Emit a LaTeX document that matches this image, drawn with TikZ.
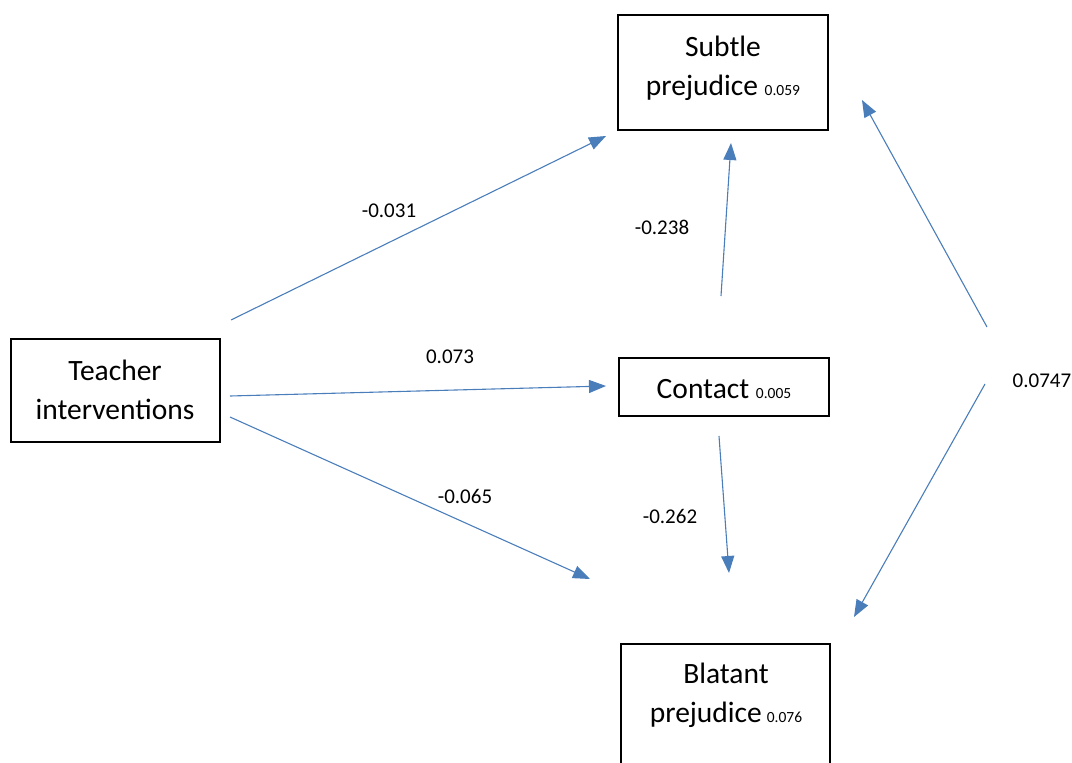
\documentclass[tikz,border=0pt]{standalone}
\usepackage{fontspec}
\setmainfont{Carlito}
\usetikzlibrary{arrows.meta}
\definecolor{arrowblue}{HTML}{4A7EBB}
\tikzset{
  box/.style={draw=black, line width=1.8pt, minimum width=#1, inner sep=0pt, fill=white},
  boxtext/.style={align=center, inner sep=0pt, font=\fontsize{29.5}{39}\selectfont},
  coef/.style={inner sep=0pt, font=\fontsize{21}{25}\selectfont},
  path/.style={draw=arrowblue, line width=1.1pt, -{Triangle[length=17pt, width=13pt]}}
}
\newcommand{\smallnum}[1]{{\fontsize{15.5}{18}\selectfont #1}}
\begin{document}
\begin{tikzpicture}[x=1pt, y=-1pt]
\useasboundingbox (0,0) rectangle (1072,763);
% boxes
\node[box=210pt, minimum height=115pt] (subtle) at (723,72.5) {};
\node[box=209pt, minimum height=103pt] (teacher) at (115.5,390.5) {};
\node[box=210pt, minimum height=58pt] (contact) at (724,387) {};
\node[box=209pt, minimum height=160pt, anchor=north] (blatant) at (725.5,643) {};
% texts
\node[boxtext] (subtletext) at (723,68) {Subtle\\prejudice \smallnum{0.059}};
\node[boxtext] (teachertext) at (115,390) {Teacher\\interventions};
\node[boxtext] (contacttext) at (724,389) {Contact \smallnum{0.005}};
\node[boxtext] (blatanttext) at (726,695) {Blatant\\prejudice\,\smallnum{0.076}};
% arrow endpoints
\coordinate (t1) at (231,320);
\coordinate (s1) at (606,136);
\coordinate (t2) at (230,396);
\coordinate (c1) at (606,386);
\coordinate (t3) at (230,417);
\coordinate (b1) at (590,579);
\coordinate (c2) at (721,296);
\coordinate (s2) at (731,143);
\coordinate (c3) at (719,436);
\coordinate (b2) at (729,573);
\coordinate (r1) at (987,327);
\coordinate (s3) at (862,100);
\coordinate (r2) at (985,384);
\coordinate (b3) at (854,617);
% arrows
\draw[path] (t1) -- (s1);
\draw[path] (t2) -- (c1);
\draw[path] (t3) -- (b1);
\draw[path] (c2) -- (s2);
\draw[path] (c3) -- (b2);
\draw[path] (r1) -- (s3);
\draw[path] (r2) -- (b3);
% coefficients
\node[coef] (l1) at (389,211) {-0.031};
\node[coef] (l2) at (450,357) {0.073};
\node[coef] (l3) at (465,496) {-0.065};
\node[coef] (l4) at (662,227) {-0.238};
\node[coef] (l5) at (670,516) {-0.262};
\node[coef] (l6) at (1042,381) {0.0747};
\end{tikzpicture}
\end{document}
